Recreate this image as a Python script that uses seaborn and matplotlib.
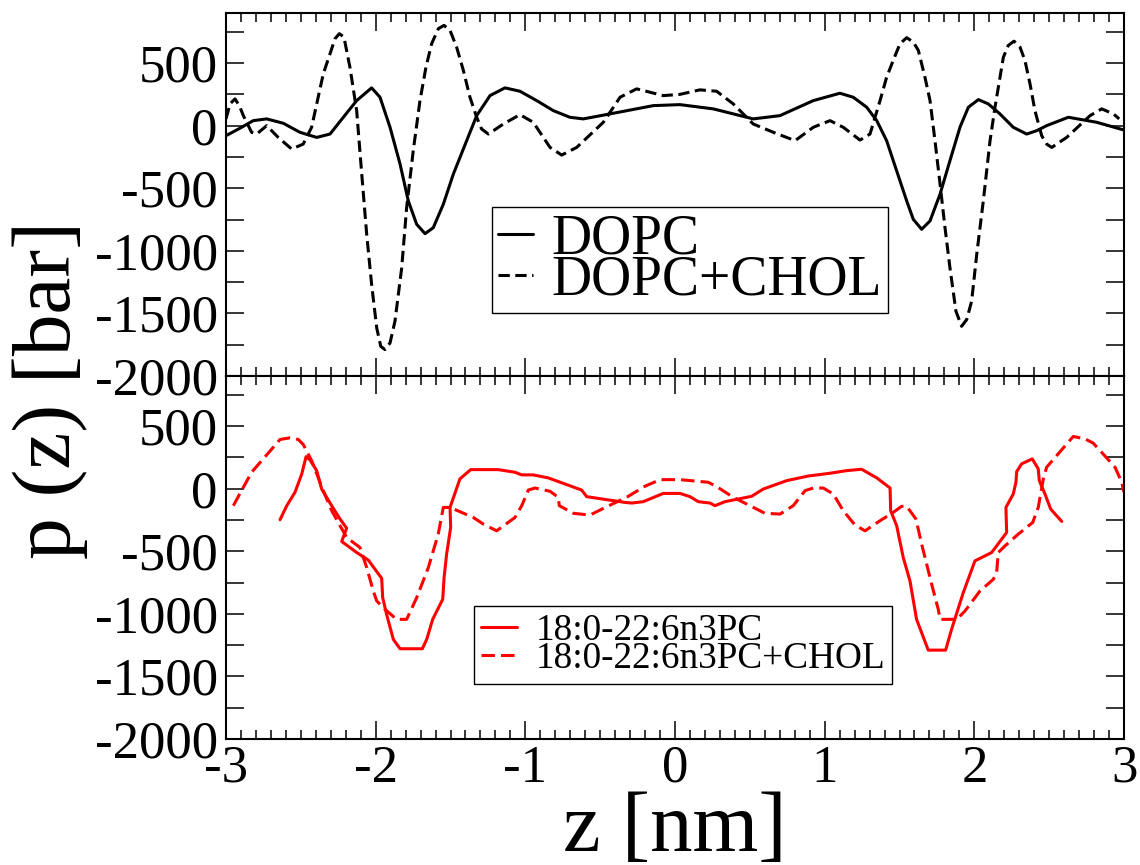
import matplotlib
matplotlib.use("Agg")
import matplotlib.pyplot as plt
import seaborn as sns
from matplotlib.ticker import MultipleLocator

# ---------------- data ----------------
z_dopc = [-3.0, -2.906, -2.818, -2.728, -2.617, -2.506, -2.394, -2.305, -2.216, -2.127,
          -2.027, -1.971, -1.904, -1.837, -1.782, -1.726, -1.670, -1.615, -1.548, -1.481,
          -1.392, -1.325, -1.236, -1.136, -1.036, -0.924, -0.813, -0.702, -0.613, -0.412,
          -0.145, 0.033, 0.256, 0.523, 0.701, 0.924, 1.102, 1.191, 1.281, 1.348,
          1.414, 1.481, 1.548, 1.592, 1.648, 1.704, 1.771, 1.837, 1.904, 1.960,
          2.027, 2.093, 2.171, 2.260, 2.350, 2.417, 2.483, 2.628, 2.817, 3.0]
p_dopc = [-80, -20, 40, 54, 19, -53, -94, -67, 67, 200,
          302, 227, -13, -307, -601, -788, -863, -815, -628, -387,
          -120, 80, 240, 302, 275, 200, 120, 67, 54, 99,
          160, 168, 134, 54, 80, 200, 259, 227, 147, 40,
          -120, -361, -601, -748, -828, -761, -547, -280, -13, 147,
          208, 174, 94, -13, -67, -40, 0, 67, 27, -35]

z_dopc_chol = [-3.0, -2.973, -2.940, -2.911, -2.884, -2.829, -2.795, -2.728, -2.651, -2.561,
               -2.484, -2.428, -2.350, -2.305, -2.272, -2.243, -2.212, -2.172, -2.127, -2.093,
               -2.060, -2.027, -1.993, -1.966, -1.938, -1.904, -1.871, -1.826, -1.793, -1.749,
               -1.704, -1.664, -1.626, -1.581, -1.543, -1.503, -1.459, -1.414, -1.370, -1.325,
               -1.292, -1.247, -1.147, -1.036, -0.947, -0.835, -0.757, -0.657, -0.479, -0.367,
               -0.256, -0.078, 0.033, 0.167, 0.278, 0.389, 0.523, 0.657, 0.802, 0.924,
               1.036, 1.124, 1.236, 1.303, 1.370, 1.414, 1.458, 1.503, 1.548, 1.592,
               1.626, 1.670, 1.704, 1.737, 1.771, 1.804, 1.837, 1.877, 1.915, 1.949,
               1.982, 2.016, 2.060, 2.105, 2.138, 2.194, 2.227, 2.265, 2.305, 2.338,
               2.372, 2.405, 2.450, 2.483, 2.517, 2.617, 2.773, 2.851, 2.929, 2.968]
p_dopc_chol = [54, 174, 214, 160, 80, -53, -67, 0, -94, -187,
               -147, -13, 414, 574, 694, 735, 708, 467, 120, -387,
               -868, -1269, -1616, -1763, -1789, -1736, -1562, -1135, -654, -200,
               200, 467, 655, 775, 801, 761, 627, 441, 227, 67,
               -27, -67, 13, 88, 27, -174, -235, -174, 27, 227,
               294, 240, 250, 286, 275, 174, 13, -53, -120, -13,
               40, -13, -115, -67, 200, 387, 521, 654, 703, 668,
               601, 387, 200, -120, -467, -815, -1135, -1482, -1603, -1549,
               -1402, -1028, -601, -120, 147, 547, 641, 675, 628, 521,
               334, 120, -80, -147, -174, -94, 80, 134, 94, 54]

z_sdpc = [-2.639, -2.594, -2.539, -2.494, -2.465, -2.439, -2.394, -2.361, -2.294, -2.238,
          -2.194, -2.227, -2.127, -2.049, -2.005, -1.960, -1.953, -1.927, -1.882, -1.837,
          -1.688, -1.659, -1.619, -1.552, -1.543, -1.526, -1.499, -1.503, -1.437, -1.365,
          -1.181, -1.069, -1.024, -0.947, -0.847, -0.624, -0.590, -0.334, -0.289, -0.212,
          -0.078, 0.033, 0.100, 0.156, 0.234, 0.267, 0.334, 0.512, 0.590, 0.746,
          0.891, 1.035, 1.147, 1.247, 1.348, 1.437, 1.441, 1.481, 1.525, 1.570,
          1.614, 1.692, 1.808, 1.848, 1.926, 2.004, 2.116, 2.216, 2.211, 2.260,
          2.278, 2.283, 2.316, 2.387, 2.427, 2.434, 2.472, 2.510, 2.584]
p_sdpc = [-248, -136, -29, 117, 256, 230, 144, -3, -136, -243,
          -315, -422, -510, -571, -643, -716, -871, -1004, -1204, -1279,
          -1279, -1204, -1044, -884, -711, -523, -310, -150, 78, 152,
          152, 131, 110, 110, 86, -11, -64, -110, -115, -104,
          -38, -38, -64, -104, -115, -136, -104, -61, -3, 64,
          101, 123, 144, 155, 86, 5, -176, -296, -550, -737,
          -1044, -1290, -1290, -1124, -831, -577, -510, -350, -150, -43,
          51, 136, 198, 238, 158, 64, -43, -163, -262]

z_sdpc_chol = [-2.951, -2.829, -2.751, -2.639, -2.572, -2.517, -2.484, -2.428, -2.350, -2.294,
               -2.238, -2.194, -2.105, -2.060, -2.016, -1.993, -1.938, -1.860, -1.793, -1.726,
               -1.648, -1.582, -1.548, -1.503, -1.348, -1.281, -1.192, -1.069, -1.024, -0.980,
               -0.935, -0.835, -0.780, -0.773, -0.679, -0.568, -0.456, -0.323, -0.201, -0.100,
               0.033, 0.222, 0.279, 0.389, 0.501, 0.601, 0.702, 0.790, 0.869, 0.924,
               0.991, 1.058, 1.124, 1.203, 1.270, 1.370, 1.459, 1.514, 1.548, 1.610,
               1.648, 1.715, 1.759, 1.771, 1.882, 1.937, 2.038, 2.127, 2.149, 2.160,
               2.205, 2.294, 2.390, 2.427, 2.461, 2.483, 2.550, 2.661, 2.739, 2.795,
               2.884, 2.940, 2.985, 3.0]
p_sdpc_chol = [-136, 131, 238, 393, 406, 393, 353, 224, -16, -176,
               -296, -390, -470, -630, -817, -897, -964, -1044, -1044, -871,
               -630, -363, -150, -150, -230, -283, -337, -230, -136, -11,
               5, -21, -69, -136, -197, -211, -144, -69, 19, 72,
               72, 51, 16, -69, -136, -197, -203, -136, -16, 5,
               5, -43, -176, -291, -337, -256, -189, -141, -141, -243,
               -443, -764, -964, -1044, -1044, -978, -817, -724, -671, -510,
               -457, -363, -270, -150, 78, 171, 264, 417, 398, 363,
               246, 171, 51, -29]

labels_top = ["DOPC", "DOPC+CHOL"]
labels_bottom = ["18:0-22:6n3PC", "18:0-22:6n3PC+CHOL"]
xlabel = "z [nm]"
ylabel = "p (z) [bar]"

# ---------------- style ----------------
sns.set_theme(style="ticks")
plt.rcParams["font.family"] = ["Liberation Serif", "DejaVu Serif"]
plt.rcParams["axes.unicode_minus"] = False
plt.rcParams["text.color"] = "black"
plt.rcParams["axes.labelcolor"] = "black"
plt.rcParams["xtick.color"] = "black"
plt.rcParams["ytick.color"] = "black"

fig, (ax1, ax2) = plt.subplots(2, 1, sharex=True, figsize=(11.4, 8.65), dpi=100)
fig.subplots_adjust(left=226 / 1140, right=1124 / 1140, top=1 - 13 / 865,
                    bottom=1 - 739 / 865, hspace=0)

LW = 2.2
dash_black = (0, (3.7, 1.8))
dash_red = (0, (4.4, 2.0))

sns.lineplot(x=z_dopc, y=p_dopc, ax=ax1, color="black", lw=LW, sort=False,
             estimator=None, label=labels_top[0])
sns.lineplot(x=z_dopc_chol, y=p_dopc_chol, ax=ax1, color="black", lw=LW, sort=False,
             estimator=None, linestyle=dash_black, label=labels_top[1])
sns.lineplot(x=z_sdpc, y=p_sdpc, ax=ax2, color="#ff0000", lw=LW, sort=False,
             estimator=None, label=labels_bottom[0])
sns.lineplot(x=z_sdpc_chol, y=p_sdpc_chol, ax=ax2, color="#ff0000", lw=LW, sort=False,
             estimator=None, linestyle=dash_red, label=labels_bottom[1])

for ax in (ax1, ax2):
    ax.set_xlim(-3, 3)
    ax.set_ylim(-2000, 900)
    ax.xaxis.set_major_locator(MultipleLocator(1))
    ax.xaxis.set_minor_locator(MultipleLocator(0.1))
    ax.yaxis.set_major_locator(MultipleLocator(500))
    ax.yaxis.set_minor_locator(MultipleLocator(250))
    ax.tick_params(axis="both", which="both", direction="in", top=True, right=True,
                   width=1.1, color="black", labelsize=38, labelcolor="black")
    ax.tick_params(axis="x", which="major", length=13, pad=4)
    ax.tick_params(axis="x", which="minor", length=6.5)
    ax.tick_params(axis="y", which="both", length=13, pad=6)
    for sp in ax.spines.values():
        sp.set_linewidth(1.5)
        sp.set_color("black")
    ax.set_ylabel("")
    ax.set_xlabel("")

ax1.tick_params(axis="x", which="both", labelbottom=False)

# legends
leg1 = ax1.legend(loc="upper left", bbox_to_anchor=(0.296, 0.466), borderaxespad=0,
                  fontsize=40, frameon=True, fancybox=False, framealpha=1,
                  edgecolor="black", handlelength=0.63, handletextpad=0.32,
                  borderpad=0.12, labelspacing=-0.2)
leg1.get_frame().set_linewidth(1.0)
leg2 = ax2.legend(loc="upper left", bbox_to_anchor=(0.276, 0.366), borderaxespad=0,
                  fontsize=26.8, frameon=True, fancybox=False, framealpha=1,
                  edgecolor="black", handlelength=0.95, handletextpad=0.5,
                  borderpad=0.2, labelspacing=-0.17)
leg2.get_frame().set_linewidth(1.0)
for leg in (leg1, leg2):
    for t in leg.get_texts():
        t.set_color("black")

# axis labels
ax2.set_xlabel(xlabel, fontsize=61, color="black")
ax2.xaxis.set_label_coords(0.5, -(851 - 739) / 363)
ax2.xaxis.label.set_va("baseline")
fig.text(70 / 1140, 1 - 390 / 865, ylabel, rotation=90, rotation_mode="anchor",
         ha="center", va="baseline", fontsize=60, color="black")

fig.savefig("out.png", dpi=100)
